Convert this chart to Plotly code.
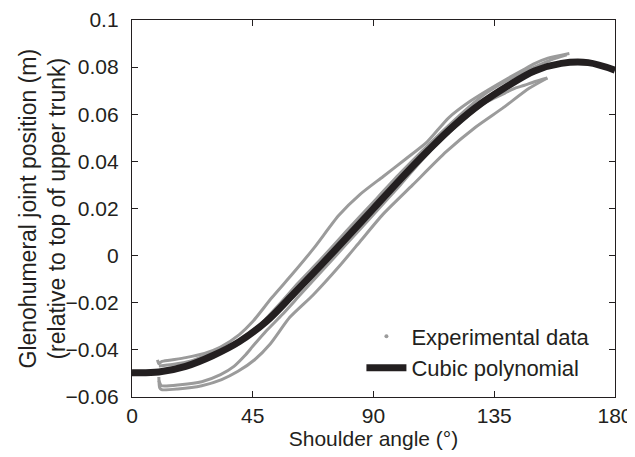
import plotly.graph_objects as go

# Cubic polynomial fit
angle_cubic = [0, 10, 20, 30, 40, 50, 60, 70, 80, 90, 100, 110, 120, 130, 140, 150, 160, 170, 180]
pos_cubic = [-0.0497, -0.0494, -0.0470, -0.0425, -0.0365, -0.0280, -0.0165, -0.0046, 0.0076, 0.0200,
             0.0324, 0.0442, 0.0552, 0.0645, 0.0720, 0.0784, 0.0816, 0.0819, 0.0787]

angle_a = [9.5, 10, 11, 14, 20, 27, 33, 40, 45, 52, 60, 68, 77, 85, 93.5, 102, 110, 118, 126, 133, 140, 146, 150, 155, 163]
pos_a = [-0.0442, -0.0458, -0.0450, -0.0444, -0.0433, -0.0415, -0.0388, -0.0335, -0.0280, -0.0180, -0.0075,
         0.0035, 0.0170, 0.0260, 0.0335, 0.0410, 0.0483, 0.0585, 0.0655, 0.0705, 0.0752, 0.0790, 0.0815, 0.0838, 0.0858]

angle_b = [10, 15, 22, 30, 36, 42, 48, 55, 62, 70, 80, 90, 100, 110, 118, 125, 132, 140, 148, 156, 162]
pos_b = [-0.0468, -0.0462, -0.0447, -0.0412, -0.0392, -0.0352, -0.0290, -0.0205, -0.0115, -0.0020, 0.0105,
         0.0228, 0.0350, 0.0465, 0.0552, 0.0625, 0.0690, 0.0745, 0.0790, 0.0830, 0.0852]

angle_c = [154.8, 150, 146, 143, 139, 135, 131, 127, 122, 115, 108, 100, 90, 80, 70, 62, 56, 50, 45, 42, 38, 33, 26, 18, 11, 10]
pos_c = [0.0754, 0.0738, 0.0722, 0.0712, 0.0690, 0.0668, 0.0645, 0.0610, 0.0560, 0.0490, 0.0405, 0.0300, 0.0175,
         0.0050, -0.0075, -0.0175, -0.0250, -0.0320, -0.0385, -0.0425, -0.0470, -0.0505, -0.0535, -0.0548, -0.0552, -0.0530]

angle_d = [10, 10.3, 11, 17, 26, 33.4, 39.5, 45.7, 51.5, 58.8, 67.4, 77.4, 85, 93.5, 104.6, 117, 128, 138, 148, 154.8]
pos_d = [-0.0515, -0.0560, -0.0569, -0.0566, -0.0552, -0.0526, -0.0491, -0.0442, -0.0375, -0.0262, -0.0168,
         -0.0043, 0.0060, 0.0175, 0.0300, 0.0440, 0.0545, 0.0625, 0.0710, 0.0754]

x_ticks = [0, 45, 90, 135, 180]
y_ticks = [-0.06, -0.04, -0.02, 0, 0.02, 0.04, 0.06, 0.08, 0.1]
y_tick_text = ["\u22120.06", "\u22120.04", "\u22120.02", "0", "0.02", "0.04", "0.06", "0.08", "0.1"]
y_title = "Glenohumeral joint position (m)<br>(relative to top of upper trunk)"

GRAY = "#9b9b9b"
DARK = "#231f20"
FONT = "Liberation Sans, Arial, sans-serif"

fig = go.Figure()
for xs, ys in [(angle_a, pos_a), (angle_b, pos_b), (angle_c, pos_c), (angle_d, pos_d)]:
    fig.add_trace(go.Scatter(x=xs, y=ys, mode="lines", line=dict(color=GRAY, width=3, shape="spline", smoothing=0.6),
                             showlegend=False, hoverinfo="skip"))

fig.add_trace(go.Scatter(x=[None], y=[None], mode="markers", marker=dict(color=GRAY, size=4),
                         name="Experimental data"))
fig.add_trace(go.Scatter(x=angle_cubic, y=pos_cubic, mode="lines", line=dict(color=DARK, width=7, shape="spline"),
                         name="Cubic polynomial"))

axis_common = dict(showline=True, linecolor=DARK, linewidth=1.3, mirror="ticks", ticks="inside", ticklen=6,
                   tickcolor=DARK, showgrid=False, zeroline=False, automargin=False,
                   tickfont=dict(family=FONT, size=21, color=DARK))

fig.update_xaxes(range=[0, 180], tickvals=x_ticks, ticklabelstandoff=0,
                 title=dict(text="Shoulder angle (\u00b0)", standoff=0,
                            font=dict(family=FONT, size=21, color=DARK)), **axis_common)
fig.update_yaxes(range=[-0.06, 0.1], tickvals=y_ticks, ticktext=y_tick_text, ticklabelstandoff=8,
                 **axis_common)

# y-axis title as a rotated annotation so it can sit as close to the tick labels as in the reference
fig.add_annotation(text=y_title, textangle=-90, xref="paper", yref="paper", x=0, y=0.5,
                   xanchor="center", yanchor="middle", xshift=-90, showarrow=False,
                   font=dict(family=FONT, size=23, color=DARK))

# page has an 8px body margin, so the figure is sized to fit the window after that offset
fig.update_layout(
    width=627, height=449,
    margin=dict(l=124, r=20, t=12, b=60),
    plot_bgcolor="white", paper_bgcolor="white",
    font=dict(family=FONT, color=DARK),
    legend=dict(x=0.475, y=0.02, xanchor="left", yanchor="bottom", bgcolor="rgba(0,0,0,0)",
                font=dict(family=FONT, size=22, color=DARK), itemwidth=40, tracegroupgap=0),
)

fig.write_html("out.html")
